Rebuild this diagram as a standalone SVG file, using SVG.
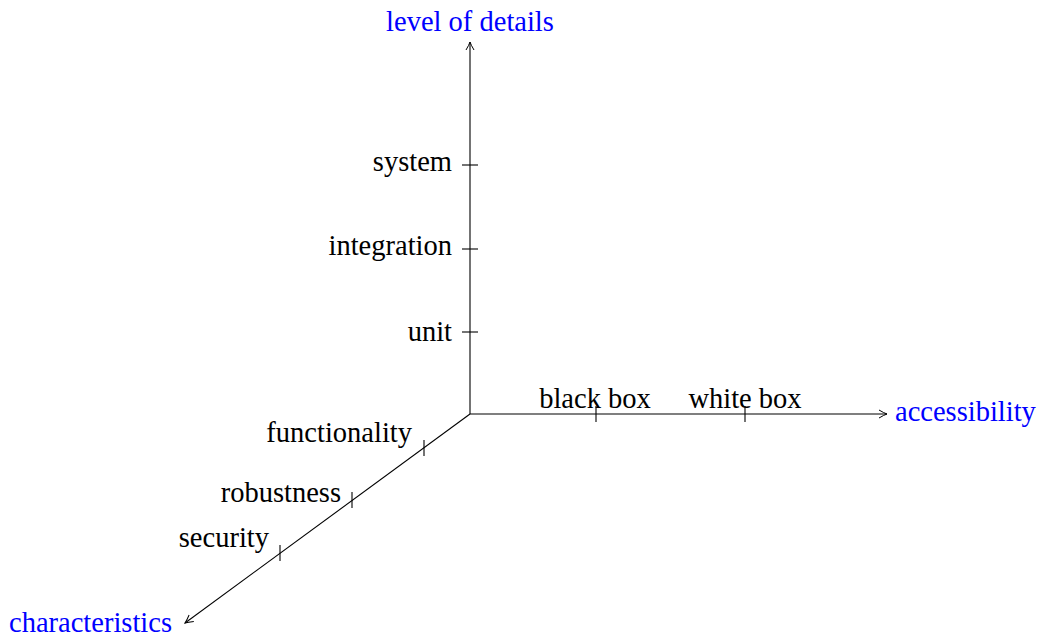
<svg xmlns="http://www.w3.org/2000/svg" width="1038" height="636" viewBox="0 0 1038 636">
<style>
text{font-family:"Liberation Serif","DejaVu Serif",serif;font-size:28.5px;fill:#000}
.ax{fill:#0000ff}
.l{stroke:#000;stroke-width:1.1;fill:none}
.e{text-anchor:end}
.m{text-anchor:middle}
</style>
<defs>
<marker id="arr" viewBox="0 0 10 10" refX="9" refY="5" markerWidth="10" markerHeight="10" markerUnits="userSpaceOnUse" orient="auto">
<path d="M1,1 Q6,4 9,5 Q6,6 1,9" fill="none" stroke="#000" stroke-width="1"/>
</marker>
</defs>
<rect width="1038" height="636" fill="#fff"/>
<g id="connectors">
<line class="l" x1="470" y1="414" x2="470" y2="42" marker-end="url(#arr)"/>
<line class="l" x1="470" y1="414" x2="887" y2="414" marker-end="url(#arr)"/>
<line class="l" x1="470" y1="414" x2="185" y2="623" marker-end="url(#arr)"/>
<line class="l" x1="462" y1="165" x2="478" y2="165"/>
<line class="l" x1="462" y1="249" x2="478" y2="249"/>
<line class="l" x1="462" y1="332" x2="478" y2="332"/>
<line class="l" x1="596" y1="406" x2="596" y2="422"/>
<line class="l" x1="745" y1="406" x2="745" y2="422"/>
<line class="l" x1="424" y1="440" x2="424" y2="456"/>
<line class="l" x1="352" y1="492" x2="352" y2="508"/>
<line class="l" x1="280" y1="545" x2="280" y2="561"/>
</g>
<g id="axis-z"><text class="ax m" x="470" y="31">level of details</text></g>
<g id="axis-x"><text class="ax" x="895" y="421">accessibility</text></g>
<g id="axis-y"><text class="ax" x="9" y="632">characteristics</text></g>
<g id="tick-system"><text class="e" x="452" y="171">system</text></g>
<g id="tick-integration"><text class="e" x="452" y="255">integration</text></g>
<g id="tick-unit"><text class="e" x="452" y="341">unit</text></g>
<g id="tick-black"><text class="m" x="595" y="408">black box</text></g>
<g id="tick-white"><text class="m" x="745" y="408">white box</text></g>
<g id="tick-functionality"><text class="e" x="412" y="442">functionality</text></g>
<g id="tick-robustness"><text class="e" x="341" y="502">robustness</text></g>
<g id="tick-security"><text class="e" x="269" y="547">security</text></g>
</svg>
